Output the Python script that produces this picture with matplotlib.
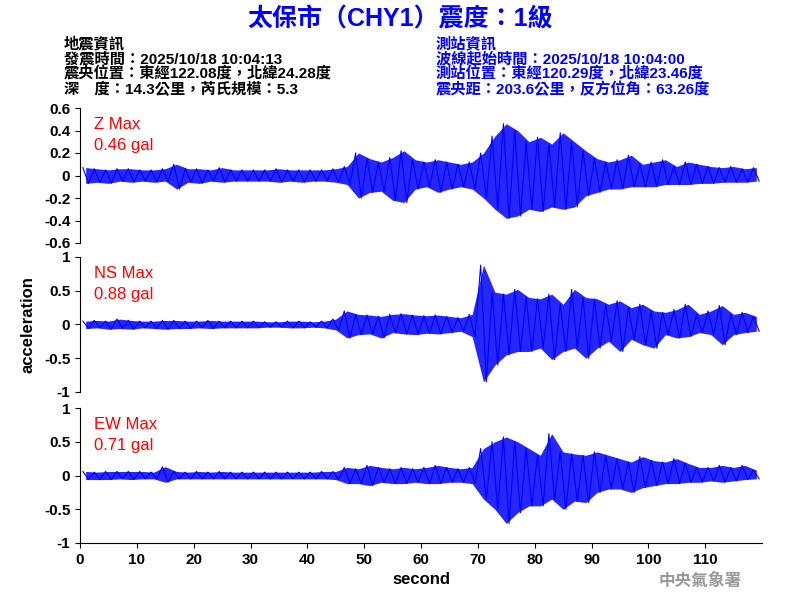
import numpy as np
import matplotlib
matplotlib.use("Agg")
import matplotlib.pyplot as plt

plt.rcParams['font.family'] = ['Liberation Sans', 'Noto Sans CJK TC', 'DejaVu Sans']

# envelope of each component, 2-second bins from 0 to 120 s
z_up = [0.07,0.06,0.05,0.06,0.06,0.05,0.05,0.06,0.10,0.06,0.06,0.05,0.07,0.05,0.05,0.05,0.05,0.06,0.05,0.05,0.05,0.05,0.06,
        0.08,0.20,0.15,0.12,0.16,0.22,0.14,0.12,0.14,0.12,0.10,0.12,
        0.20,0.35,0.46,0.40,0.30,0.34,0.28,0.38,0.30,0.22,
        0.15,0.12,0.14,0.18,0.10,0.12,0.14,0.08,0.12,0.10,0.08,0.07,0.08,0.06,0.07]
z_low = [-0.07,-0.06,-0.07,-0.05,-0.06,-0.05,-0.06,-0.05,-0.12,-0.06,-0.07,-0.05,-0.06,-0.05,-0.05,-0.05,-0.05,-0.06,-0.05,-0.06,-0.05,-0.05,-0.06,
         -0.08,-0.20,-0.15,-0.14,-0.22,-0.24,-0.12,-0.10,-0.15,-0.12,-0.10,-0.12,
         -0.20,-0.30,-0.38,-0.36,-0.30,-0.32,-0.28,-0.30,-0.28,-0.18,
         -0.15,-0.12,-0.12,-0.10,-0.10,-0.10,-0.08,-0.08,-0.08,-0.07,-0.07,-0.06,-0.06,-0.06,-0.05]
ns_up = [0.05,0.06,0.05,0.08,0.06,0.05,0.05,0.06,0.06,0.05,0.05,0.06,0.05,0.05,0.05,0.05,0.04,0.04,0.05,0.05,0.04,0.05,0.08,
         0.20,0.15,0.14,0.12,0.15,0.16,0.14,0.13,0.14,0.12,0.10,0.15,
         0.88,0.48,0.45,0.52,0.40,0.38,0.45,0.30,0.52,0.40,
         0.38,0.30,0.35,0.25,0.30,0.20,0.18,0.22,0.30,0.15,0.20,0.28,0.15,0.18,0.12]
ns_low = [-0.06,-0.05,-0.07,-0.06,-0.07,-0.05,-0.06,-0.07,-0.06,-0.06,-0.05,-0.06,-0.05,-0.05,-0.05,-0.05,-0.04,-0.04,-0.05,-0.05,-0.04,-0.05,-0.08,
          -0.20,-0.15,-0.14,-0.20,-0.12,-0.14,-0.15,-0.13,-0.14,-0.12,-0.10,-0.18,
          -0.85,-0.60,-0.45,-0.40,-0.40,-0.35,-0.52,-0.40,-0.35,-0.50,
          -0.35,-0.25,-0.40,-0.22,-0.30,-0.35,-0.15,-0.20,-0.18,-0.12,-0.15,-0.30,-0.15,-0.12,-0.10]
ew_up = [0.06,0.05,0.06,0.06,0.06,0.06,0.05,0.13,0.06,0.05,0.06,0.05,0.06,0.05,0.05,0.05,0.05,0.05,0.05,0.05,0.05,0.06,0.06,
         0.12,0.10,0.15,0.12,0.10,0.12,0.10,0.12,0.15,0.12,0.10,0.12,
         0.40,0.50,0.57,0.50,0.40,0.30,0.62,0.35,0.32,0.30,
         0.35,0.30,0.25,0.20,0.28,0.22,0.20,0.25,0.18,0.12,0.12,0.15,0.12,0.15,0.08]
ew_low = [-0.06,-0.06,-0.06,-0.05,-0.06,-0.05,-0.05,-0.10,-0.05,-0.05,-0.05,-0.05,-0.05,-0.05,-0.05,-0.05,-0.05,-0.05,-0.05,-0.05,-0.05,-0.05,-0.06,
          -0.12,-0.12,-0.15,-0.10,-0.12,-0.12,-0.10,-0.12,-0.12,-0.10,-0.10,-0.12,
          -0.35,-0.50,-0.71,-0.55,-0.45,-0.45,-0.35,-0.50,-0.38,-0.40,
          -0.25,-0.20,-0.20,-0.25,-0.18,-0.15,-0.12,-0.12,-0.10,-0.10,-0.08,-0.10,-0.08,-0.06,-0.05]

channels = [("Z Max", "0.46 gal", z_up, z_low, 0.6, [-0.6,-0.4,-0.2,0,0.2,0.4,0.6], ["-0.6","-0.4","-0.2","0","0.2","0.4","0.6"]),
            ("NS Max", "0.88 gal", ns_up, ns_low, 1, [-1,-0.5,0,0.5,1], ["-1","-0.5","0","0.5","1"]),
            ("EW Max", "0.71 gal", ew_up, ew_low, 1, [-1,-0.5,0,0.5,1], ["-1","-0.5","0","0.5","1"])]

fig = plt.figure(figsize=(8, 6), dpi=100)
bottoms = [0.595, 0.3467, 0.095]
blue = "#0000ff"
for i, (name, val, up, low, lim, ticks, labs) in enumerate(channels):
    ax = fig.add_axes([0.1, bottoms[i], 0.8525, 0.225])
    t = np.arange(len(up)) * 2.0
    # dense band between the envelopes, plus zigzag spikes
    ax.fill_between(t + 1, low, up, color=blue, lw=0, alpha=0.85)
    tt = np.empty(2 * len(up))
    yy = np.empty(2 * len(up))
    tt[0::2] = t + 0.5
    tt[1::2] = t + 1.5
    yy[0::2] = up
    yy[1::2] = low
    ax.plot(tt, yy, color=blue, lw=0.8)
    ax.set_xlim(0, 120)
    ax.set_ylim(-lim, lim)
    ax.set_yticks(ticks)
    ax.set_yticklabels(labs, fontsize=11, fontweight='bold')
    ax.spines['top'].set_visible(False)
    ax.spines['right'].set_visible(False)
    ax.text(0.02, 0.93, name, transform=ax.transAxes, color='red', fontsize=12, va='top')
    ax.text(0.02, 0.78, val, transform=ax.transAxes, color='red', fontsize=12, va='top')
    if i < 2:
        ax.spines['bottom'].set_visible(False)
        ax.set_xticks([])
    else:
        ax.set_xticks(range(0, 120, 10))
        ax.set_xticklabels([str(x) for x in range(0, 120, 10)], fontsize=11, fontweight='bold')
        ax.set_xlabel("second", fontsize=12, fontweight='bold')
    if i == 1:
        ax.set_ylabel("acceleration", fontsize=12, fontweight='bold', labelpad=6)

fig.text(0.5, 0.968, "太保市（CHY1）震度：1級", color=blue, fontsize=18, fontweight='bold', ha='center', va='center')
left_info = ["地震資訊", "發震時間：2025/10/18 10:04:13", "震央位置：東經122.08度，北緯24.28度", "深　度：14.3公里，芮氏規模：5.3"]
right_info = ["測站資訊", "波線起始時間：2025/10/18 10:04:00", "測站位置：東經120.29度，北緯23.46度", "震央距：203.6公里，反方位角：63.26度"]
for k, s in enumerate(left_info):
    fig.text(0.08, 0.927 - k * 0.0255, s, fontsize=11, color='black', va='center', fontweight='bold')
for k, s in enumerate(right_info):
    fig.text(0.545, 0.927 - k * 0.0255, s, fontsize=11, color=blue, va='center', fontweight='bold')
fig.text(0.875, 0.032, "中央氣象署", fontsize=12, color='#999999', ha='center', va='center', fontweight='bold')

fig.savefig("out.png", dpi=100)
